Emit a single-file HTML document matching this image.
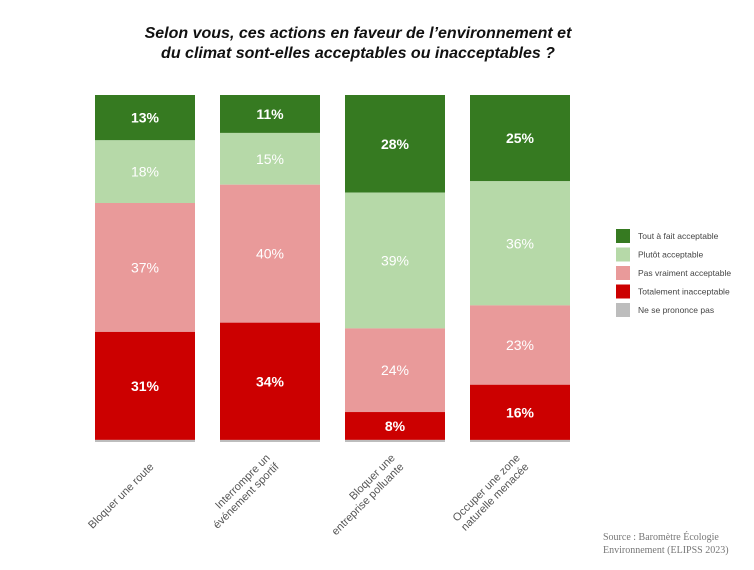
<!DOCTYPE html>
<html><head><meta charset="utf-8"><style>
body{margin:0;background:#fff;width:754px;height:565px;overflow:hidden;font-family:"Liberation Sans",sans-serif}
</style></head><body>
<svg id="c" width="754" height="565">
<text x="358" y="38" text-anchor="middle" font-size="16" font-weight="bold" font-style="italic" fill="#111">Selon vous, ces actions en faveur de l’environnement et</text>
<text x="358" y="58" text-anchor="middle" font-size="16" font-weight="bold" font-style="italic" fill="#111">du climat sont-elles acceptables ou inacceptables ?</text>
<g id="bars"></g><g id="xl"></g><g id="lg"></g>
<text x="603" y="540" font-family="Liberation Serif" font-size="10" fill="#777">Source : Baromètre Écologie</text>
<text x="603" y="553" font-family="Liberation Serif" font-size="10" fill="#777">Environnement (ELIPSS 2023)</text>
</svg>
<script>
const categories=[["Bloquer une route"],["Interrompre un","événement sportif"],["Bloquer une","entreprise polluante"],["Occuper une zone","naturelle menacée"]];
const seriesNames=["Tout à fait acceptable","Plutôt acceptable","Pas vraiment acceptable","Totalement inacceptable","Ne se prononce pas"];
const toutAFait=[13,11,28,25];
const plutot=[18,15,39,36];
const pasVraiment=[37,40,24,23];
const totalement=[31,34,8,16];
const nsp=[0.6,0.6,0.6,0.6];
const colors=["#367a21","#b6d9a8","#e99a9a","#cc0000","#bdbdbd"];
const series=[toutAFait,plutot,pasVraiment,totalement,nsp];
const NS="http://www.w3.org/2000/svg";
const top0=95,bot=442,x0=95,step=125,bw=100;
const bars=document.getElementById('bars'),xl=document.getElementById('xl'),lg=document.getElementById('lg');
function mk(t,a,p){const e=document.createElementNS(NS,t);for(const k in a)e.setAttribute(k,a[k]);p.appendChild(e);return e;}
categories.forEach((c,i)=>{
  const tot=series.reduce((s,a)=>s+a[i],0);
  const sc=(bot-top0)/tot;
  let y=top0;const x=x0+i*step;
  series.forEach((s,j)=>{
    const h=s[i]*sc;
    const r=mk('rect',{x:x,y:y,width:bw,height:h,fill:colors[j]},bars);
    
    
    if(j<4){const t=mk('text',{x:x+bw/2,y:y+h/2+5,'text-anchor':'middle','font-size':14,fill:'#fff','font-weight':(j==0||j==3)?'bold':'normal'},bars);t.textContent=s[i]+'%';
      
      }
    y+=h;
  });
  const cx=x+bw/2+3,cy=461;
  const g=mk('g',{transform:`translate(${cx},${cy}) rotate(-45)`},xl);
  
  
  c.forEach((ln,k)=>{const t=mk('text',{x:0,y:(k-(c.length-1))*12.5+9,'text-anchor':'end','font-size':11,fill:'#555'},g);t.textContent=ln;});
});
seriesNames.forEach((n,j)=>{
  const y=229+j*18.5;
  const r=mk('rect',{x:616,y:y,width:14,height:14,fill:colors[j]},lg);
  
  
  const t=mk('text',{x:638,y:y+10,'font-size':8.5,fill:'#444'},lg);t.textContent=n;
  
  
});
</script>
</body></html>
